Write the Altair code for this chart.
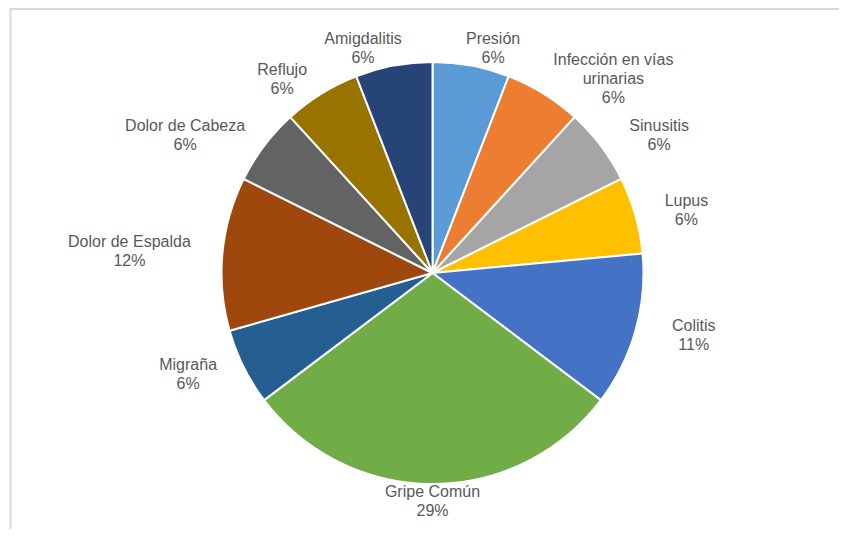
import textwrap
import altair as alt
import pandas as pd

# ---- data ----
categories = ["Presión", "Infección en vías urinarias", "Sinusitis", "Lupus", "Colitis",
              "Gripe Común", "Migraña", "Dolor de Espalda", "Dolor de Cabeza", "Reflujo",
              "Amigdalitis"]
counts = [1, 1, 1, 1, 2, 5, 1, 2, 1, 1, 1]
pct_labels = ["6%", "6%", "6%", "6%", "11%", "29%", "6%", "12%", "6%", "6%", "6%"]
colors = ["#5B9BD5", "#ED7D31", "#A5A5A5", "#FFC000", "#4472C4", "#70AD47",
          "#255E91", "#9E480E", "#636363", "#997300", "#264478"]

# ---- layout ----
W, H = 831, 521
CX, CY = 424.5, 265
R = 211
RLX, RLY = 245, 228
FONT = "Liberation Sans"
FONT_SIZE = 16
CHAR_W = 7.4
LINE_H = 19

wrapped = [textwrap.wrap(c, 17) for c in categories]
df = pd.DataFrame({
    "idx": list(range(len(categories))),
    "categoria": categories,
    "valor": counts,
    "pct": pct_labels,
})
df["etiqueta"] = ["\n".join(w + [p]) for w, p in zip(wrapped, pct_labels)]
df["hw"] = [max(len(l) for l in w) * CHAR_W / 2 for w in wrapped]
df["lift"] = [len(w) * LINE_H / 2 for w in wrapped]   # first line is the anchor

base = alt.Chart(df)

pie = base.mark_arc(outerRadius=R, stroke="white", strokeWidth=2).encode(
    theta=alt.Theta("valor:Q", stack=True),
    color=alt.Color("categoria:N", scale=alt.Scale(domain=categories, range=colors), legend=None),
    order=alt.Order("idx:Q"),
    x=alt.value(CX),
    y=alt.value(CY),
)

labels = base.transform_joinaggregate(
    total="sum(valor)"
).transform_window(
    cum="sum(valor)", sort=[alt.SortField("idx")], frame=[None, 0]
).transform_calculate(
    a="(datum.cum - datum.valor / 2) / datum.total * 2 * PI"
).transform_calculate(
    f="(sin(datum.a) >= 0 ? 1 : -1) * pow(abs(sin(datum.a)), 0.3)"
).transform_calculate(
    lx=f"{CX} + {RLX} * sin(datum.a) + datum.hw * datum.f",
    ly=f"{CY} - {RLY} * cos(datum.a) - datum.lift",
).mark_text(
    font=FONT, fontSize=FONT_SIZE, color="#595959", align="center", baseline="middle",
    lineBreak="\n", lineHeight=LINE_H,
).encode(
    x=alt.X("lx:Q", scale=None),
    y=alt.Y("ly:Q", scale=None),
    text="etiqueta:N",
)

frame_data = alt.Data(values=[{"k": 1}])
frame_top = alt.Chart(frame_data).mark_rule(color="#d9d9d9", strokeWidth=2).encode(
    x=alt.value(2.5), x2=alt.value(W), y=alt.value(1)
)
frame_left = alt.Chart(frame_data).mark_rule(color="#d9d9d9", strokeWidth=2).encode(
    x=alt.value(2.5), y=alt.value(0), y2=alt.value(H)
)

chart = alt.layer(frame_top, frame_left, pie, labels).properties(
    width=W, height=H, padding=0,
    autosize=alt.AutoSizeParams(type="none"),
    background="white",
).configure_view(stroke=None)

chart.save("out.html", embed_options={"renderer": "svg", "actions": False})
